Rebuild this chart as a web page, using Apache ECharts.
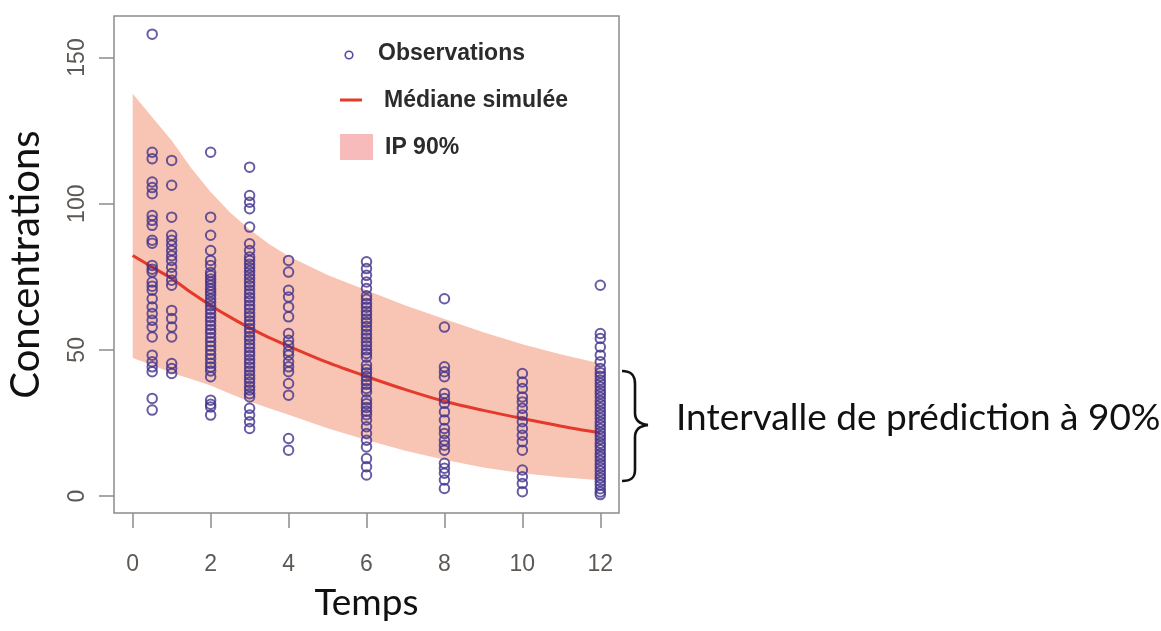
<!DOCTYPE html>
<html>
<head>
<meta charset="utf-8">
<script src="https://cdn.jsdelivr.net/npm/echarts@6/dist/echarts.min.js"></script>
<style>
  html, body { margin: 0; padding: 0; background: #ffffff; }
  #chart { width: 1161px; height: 631px; }
</style>
</head>
<body>
<div id="chart"></div>
<script>
// Observed concentrations, one list per sampling time (h)
const obs_0_5 = [158, 117.6, 115.4, 107.4, 105.5, 103.4, 96, 94.3, 92.6, 87.5, 86.5, 78.9, 77.6, 76.6, 73.2, 71.8, 70.4, 67.5, 64.7, 62.4, 60.1, 57.8, 54.4, 48.2, 45.9, 44.2, 42.5, 33.4, 29.4];
const obs_1 = [114.8, 106.3, 95.4, 89.2, 87.5, 85.8, 84, 82.2, 80.6, 78.3, 76.1, 73.8, 72.1, 63.5, 60.7, 57.8, 54.4, 45.3, 43.6, 41.9];
const obs_2 = [117.6, 95.4, 89.2, 84, 80.6, 78.9, 76.5, 75.4, 74.2, 73.2, 72.1, 70.9, 69.9, 68.8, 67.5, 66.3, 65.1, 63.8, 62.4, 61.1, 59.8, 58.4, 57, 55.7, 54.2, 52.8, 51.3, 49.9, 48.4, 47, 45.4, 44.1, 42.8, 40.8, 32.8, 31.4, 30.5, 27.7];
const obs_3 = [112.5, 102.8, 100.5, 98.3, 92, 86.3, 84, 81.8, 80.6, 79.3, 78.1, 76.9, 75.6, 74.4, 73.1, 71.9, 70.5, 69.2, 67.9, 66.7, 65.3, 64, 62.6, 61.4, 60, 58.7, 57.3, 56, 54.6, 53.4, 52, 50.7, 49.3, 48.1, 46.7, 45.4, 44.1, 42.8, 41.4, 40.2, 38.9, 37.5, 36.3, 35, 33.9, 30, 27.7, 25.4, 23.1];
const obs_4 = [80.6, 76.6, 70.4, 68.1, 64.7, 61.3, 55.6, 53.3, 51.6, 49.5, 48.2, 45.9, 44.2, 42.5, 38.5, 34.5, 19.7, 15.7];
const obs_6 = [80.1, 77.8, 75.5, 73.2, 71, 68.5, 67.3, 65.9, 64.6, 63.2, 62, 60.6, 59.4, 58, 56.7, 55.3, 54.1, 52.7, 51.4, 50, 48.8, 47.5, 44.8, 43.4, 42.2, 40.9, 39.5, 38.2, 36.8, 35.6, 32.9, 31.6, 30.3, 29, 27.8, 26, 23.7, 21.4, 19.1, 16.8, 12.8, 10, 7.2];
const obs_8 = [67.5, 57.8, 44.2, 42.5, 40.8, 35.1, 33.4, 31.7, 28.8, 26, 23.1, 21.4, 19.1, 17.4, 15.7, 11.2, 9.5, 7.8, 5.5, 2.6];
const obs_10 = [41.9, 39, 36.8, 33.9, 32.2, 30, 27.7, 25.4, 23.1, 20.8, 18.6, 15.7, 8.9, 6.6, 4.3, 1.5];
const obs_12 = [72.1, 55.6, 53.9, 51, 48.2, 45.9, 43.6, 42.2, 41, 39.7, 38.6, 37.4, 36.1, 35, 33.8, 32.5, 31.4, 30.2, 28.9, 27.8, 26.6, 25.3, 24.2, 23, 21.7, 20.6, 19.4, 18.1, 17, 15.8, 14.5, 13.4, 12.2, 10.9, 9.8, 8.6, 7.3, 6.2, 5, 3.8, 2.5, 1.4, 0.5];

const sampleTimes = [0.5, 1, 2, 3, 4, 6, 8, 10, 12];
const sampleLists = [obs_0_5, obs_1, obs_2, obs_3, obs_4, obs_6, obs_8, obs_10, obs_12];

// Simulated median and 90% prediction interval bounds
const curveTimes = [0, 0.5, 1, 1.5, 2, 2.5, 3, 3.5, 4, 5, 6, 7, 8, 9, 10, 11, 12];
const medianSim  = [82.3, 78.3, 74.4, 69.6, 65.2, 61.2, 57.5, 54.2, 51.3, 45.7, 40.9, 36.4, 32.4, 29.3, 26.5, 23.9, 21.6];
const upperPI    = [137.6, 129.6, 121.6, 112.2, 104, 97, 91.2, 86.2, 82, 75.6, 70.4, 65.2, 60.6, 56, 51.9, 48.4, 45.3];
const lowerPI    = [47.2, 44.8, 42.1, 40, 37.8, 35, 32.3, 30, 27.8, 23.2, 19.2, 15.5, 12.4, 9.8, 7.8, 6.4, 5.4];

// Tick labels
const xTicks = [0, 2, 4, 6, 8, 10, 12];
const yTicks = [0, 50, 100, 150];

const obsData = [];
sampleTimes.forEach((t, i) => sampleLists[i].forEach(v => obsData.push([t, v])));

const medianData = curveTimes.map((t, i) => [t, medianSim[i]]);
// one row per time: [t, lower, upper]
const bandData = curveTimes.map((t, i) => [t, lowerPI[i], upperPI[i]]);

const axisGray = '#8c8c8c';
const tickFont = { fontFamily: 'Liberation Sans', fontSize: 23, color: '#5d5853' };
const legendFont = 'bold 23px "Liberation Sans"';

// curly brace beside the interval at t = 12
const braceStyle = { fill: 'none', stroke: '#111111', lineWidth: 2.6 };
const braceParts = [
  { type: 'bezierCurve', shape: { x1: 622, y1: 371, cpx1: 631, cpy1: 371, cpx2: 635, cpy2: 375, x2: 635, y2: 384 } },
  { type: 'line', shape: { x1: 635, y1: 384, x2: 635, y2: 413 } },
  { type: 'bezierCurve', shape: { x1: 635, y1: 413, cpx1: 635, cpy1: 420, cpx2: 639, cpy2: 424, x2: 648, y2: 425 } },
  { type: 'bezierCurve', shape: { x1: 648, y1: 425, cpx1: 639, cpy1: 426, cpx2: 635, cpy2: 430, x2: 635, y2: 437 } },
  { type: 'line', shape: { x1: 635, y1: 437, x2: 635, y2: 470 } },
  { type: 'bezierCurve', shape: { x1: 635, y1: 470, cpx1: 635, cpy1: 478, cpx2: 631, cpy2: 481, x2: 622, y2: 481 } }
].map(p => Object.assign(p, { style: braceStyle }));

const chart = echarts.init(document.getElementById('chart'), null, { renderer: 'canvas' });

chart.setOption({
  animation: false,
  backgroundColor: '#ffffff',
  grid: {
    left: 114, top: 16, right: 542, bottom: 118,
    show: true, borderColor: axisGray, borderWidth: 1.5, backgroundColor: 'transparent'
  },
  xAxis: {
    type: 'value', min: -0.48, max: 12.48,
    axisLine: { show: false, onZero: false },
    splitLine: { show: false },
    axisTick: { show: true, length: 15, customValues: xTicks, lineStyle: { color: axisGray, width: 1.5 } },
    axisLabel: Object.assign({ customValues: xTicks, margin: 40 }, tickFont),
    name: 'Temps', nameLocation: 'middle', nameGap: 72,
    nameTextStyle: { fontFamily: 'Lato', fontSize: 37, color: '#111111' }
  },
  yAxis: {
    type: 'value', min: -5.8, max: 164.2,
    axisLine: { show: false, onZero: false },
    splitLine: { show: false },
    axisTick: { show: true, length: 15, customValues: yTicks, lineStyle: { color: axisGray, width: 1.5 } },
    axisLabel: Object.assign({ customValues: yTicks, margin: 25, rotate: 90 }, tickFont),
    name: 'Concentrations', nameLocation: 'middle', nameGap: 68, nameRotate: 90,
    nameTextStyle: { fontFamily: 'Lato', fontSize: 40, color: '#111111' }
  },
  series: [
    {
      // 90% prediction interval as a single filled polygon
      name: 'IP 90%', type: 'custom', data: [0], silent: true, z: 1,
      renderItem: function (params, api) {
        const top = bandData.map(r => api.coord([r[0], r[2]]));
        const bottom = bandData.map(r => api.coord([r[0], r[1]])).reverse();
        return {
          type: 'polygon',
          shape: { points: top.concat(bottom) },
          style: { fill: '#F8C4B3', stroke: 'none' }
        };
      }
    },
    {
      name: 'Médiane simulée', type: 'line', data: medianData, smooth: 0.3,
      symbol: 'none', lineStyle: { color: '#E5392B', width: 3 }, z: 3
    },
    {
      name: 'Observations', type: 'scatter', data: obsData,
      symbol: 'circle', symbolSize: 9.5,
      itemStyle: { color: 'rgba(0,0,0,0)', borderColor: '#42338b', borderWidth: 2 },
      z: 4
    }
  ],
  graphic: [
    // legend
    { type: 'circle', shape: { cx: 349, cy: 55, r: 3.8 }, style: { fill: 'none', stroke: '#5846a3', lineWidth: 1.6 } },
    { type: 'text', x: 378, y: 54, style: { text: 'Observations', font: legendFont, fill: '#2b2b2b', verticalAlign: 'middle' } },
    { type: 'line', shape: { x1: 340, y1: 100, x2: 362, y2: 100 }, style: { stroke: '#E5392B', lineWidth: 3 } },
    { type: 'text', x: 384, y: 101, style: { text: 'Médiane simulée', font: legendFont, fill: '#2b2b2b', verticalAlign: 'middle' } },
    { type: 'rect', shape: { x: 340, y: 134, width: 33, height: 26 }, style: { fill: '#F7BBBB' } },
    { type: 'text', x: 385, y: 148, style: { text: 'IP 90%', font: legendFont, fill: '#2b2b2b', verticalAlign: 'middle' } },
    ...braceParts,
    { type: 'text', x: 676, y: 418, style: { text: 'Intervalle de prédiction à 90%', font: '37px Lato', fill: '#111111', verticalAlign: 'middle' } }
  ]
});
</script>
</body>
</html>
